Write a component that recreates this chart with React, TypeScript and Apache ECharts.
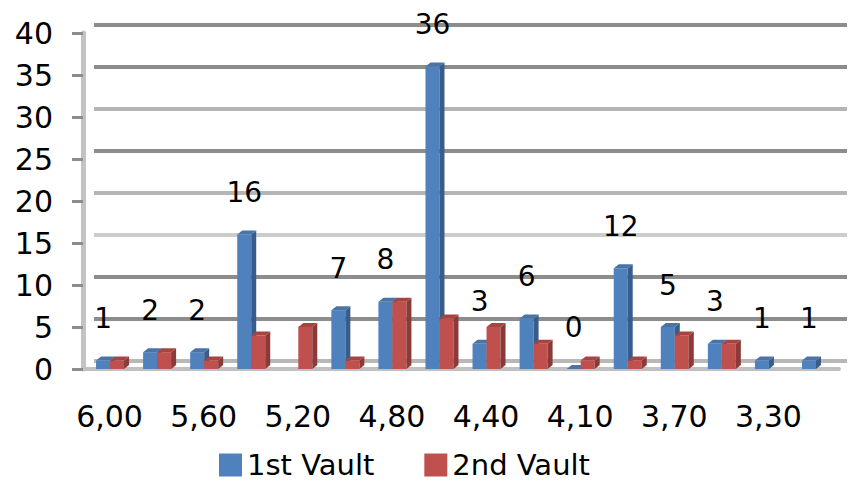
import React, { useEffect, useRef } from "react";
import * as echarts from "echarts";

const categories = ["6,00", "5,80", "5,60", "5,40", "5,20", "5,00", "4,80", "4,60", "4,40", "4,20", "4,10", "3,90", "3,70", "3,50", "3,30", "3,10"];
const firstVault: (number | null)[] = [1, 2, 2, 16, null, 7, 8, 36, 3, 6, 0, 12, 5, 3, 1, 1];
const secondVault: (number | null)[] = [1, 2, 1, 4, 5, 1, 8, 6, 5, 3, 1, 1, 4, 3, null, null];
const seriesNames = ["1st Vault", "2nd Vault"];

const FONT = "DejaVu Sans";
const W = 14;
const D = 5;
const H = 4;

function makeRender(front: string, side: string, top: string, isFirst: boolean, showLabel: boolean) {
  return (_params: any, api: any) => {
    const idx = api.value(0);
    const v = api.value(1);
    if (v == null || isNaN(v)) return null;
    const p0 = api.coord([idx, 0]);
    const p1 = api.coord([idx, v]);
    const c = p0[0] + 0.5;
    const x0 = isFirst ? c - W : c;
    const x1 = x0 + W;
    const yb = p0[1];
    const yt = p1[1];
    const children: any[] = [
      { type: "rect", shape: { x: x0, y: yt, width: W, height: yb - yt }, style: { fill: front } },
      { type: "polygon", shape: { points: [[x1, yt], [x1 + D, yt - H], [x1 + D, yb - H], [x1, yb]] }, style: { fill: side } },
      { type: "polygon", shape: { points: [[x0, yt], [x0 + D, yt - H], [x1 + D, yt - H], [x1, yt]] }, style: { fill: top } },
    ];
    if (showLabel) {
      children.push({
        type: "text",
        x: (x0 + x1) / 2,
        y: yt - 28,
        style: { text: String(v), fontSize: 28, fontFamily: FONT, fill: "#000", align: "center", verticalAlign: "bottom" },
      });
    }
    return { type: "group", children };
  };
}

const toData = (arr: (number | null)[]) => arr.flatMap((v, i) => (v == null ? [] : [[i, v]]));

export default function App() {
  const ref = useRef<HTMLDivElement>(null);
  useEffect(() => {
    const chart = echarts.init(ref.current!, null, { renderer: "svg" });
    chart.setOption({
      animation: false,
      backgroundColor: "#ffffff",
      grid: [
        { left: 86, right: 9, top: 33, bottom: 113 },
        { left: 94, right: 1, top: 25, bottom: 121 },
      ],
      legend: {
        data: seriesNames,
        left: 214,
        top: 445,
        icon: "rect",
        itemWidth: 23,
        itemHeight: 23,
        itemGap: 50,
        textStyle: { fontSize: 29, fontFamily: FONT, color: "#000", lineHeight: 30 },
      },
      xAxis: [
        {
          type: "category",
          gridIndex: 0,
          data: categories,
          axisLine: { show: true, lineStyle: { color: "#c0c0c0", width: 4 } },
          axisTick: { show: false },
          axisLabel: { interval: 1, margin: 32, fontSize: 30, fontFamily: FONT, color: "#000" },
          splitLine: { show: false },
        },
        {
          type: "category",
          gridIndex: 1,
          data: categories,
          show: false,
        },
      ],
      yAxis: [
        {
          type: "value",
          gridIndex: 0,
          min: 0,
          max: 40,
          interval: 5,
          offset: 3,
          axisLine: { show: true, lineStyle: { color: "#c3c3c3", width: 5 } },
          axisTick: { show: true, length: 11, lineStyle: { color: "#8c8c8c", width: 3 } },
          axisLabel: { margin: 30, fontSize: 30, fontFamily: FONT, color: "#000" },
          splitLine: { show: false },
        },
        {
          type: "value",
          gridIndex: 1,
          min: 0,
          max: 40,
          interval: 5,
          axisLine: { show: false },
          axisTick: { show: false },
          axisLabel: { show: false },
          splitLine: {
            show: true,
            lineStyle: {
              width: 4,
              color: ["#b8b8b8", "#8c8c8c", "#8c8c8c", "#cccccc", "#b5b5b5", "#8c8c8c", "#b5b5b5", "#8c8c8c", "#8c8c8c"],
            },
          },
        },
      ],
      series: [
        {
          name: seriesNames[0],
          type: "custom",
          xAxisIndex: 0,
          yAxisIndex: 0,
          itemStyle: { color: "#4F81BD" },
          encode: { x: 0, y: 1 },
          renderItem: makeRender("#4F81BD", "#385D8A", "#4a73a8", true, true),
          data: toData(firstVault),
          z: 3,
        },
        {
          name: seriesNames[1],
          type: "custom",
          xAxisIndex: 0,
          yAxisIndex: 0,
          itemStyle: { color: "#C0504D" },
          encode: { x: 0, y: 1 },
          renderItem: makeRender("#C0504D", "#8B3A38", "#a8443f", false, false),
          data: toData(secondVault),
          z: 4,
        },
      ],
    });
    return () => chart.dispose();
  }, []);
  return <div ref={ref} style={{ position: "fixed", left: 0, top: 0, width: 848, height: 482 }} />;
}
